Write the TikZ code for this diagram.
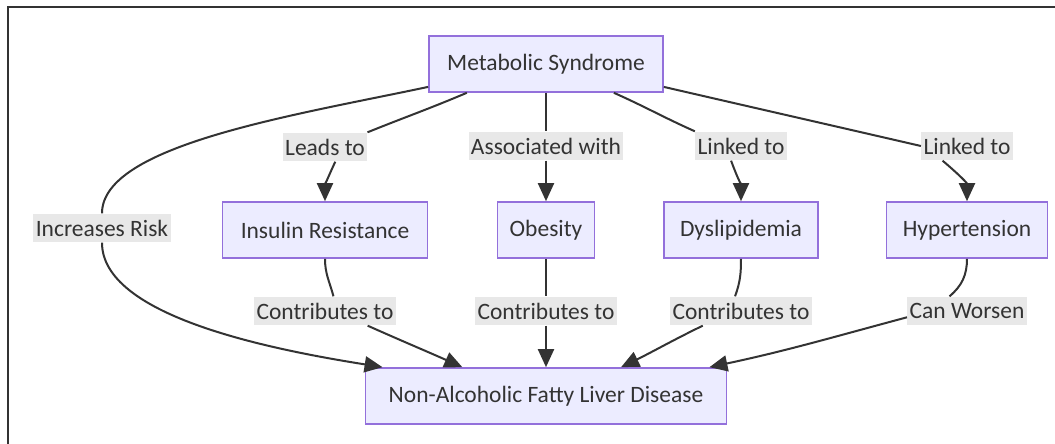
\documentclass[tikz,border=0pt]{standalone}
\usepackage{fontspec}
\setmainfont{Carlito}
\usetikzlibrary{arrows.meta}
\definecolor{boxfill}{HTML}{ECECFF}
\definecolor{boxline}{HTML}{9370DB}
\definecolor{ink}{HTML}{333333}
\definecolor{lblfill}{HTML}{E8E8E8}
\tikzset{proc/.style={rectangle,draw=boxline,fill=boxfill,line width=0.04cm,text=ink,inner xsep=0.3cm,minimum height=1.4cm,font=\fontsize{16.7}{20}\selectfont},
	 elab/.style={rectangle,fill=lblfill,text=ink,inner xsep=0.06cm,inner ysep=0pt,minimum height=0.72cm,font=\fontsize{16.7}{20}\selectfont},
	 arr/.style={draw=ink,line width=0.05cm,-{Triangle[length=0.45cm,width=0.4cm]}}
	 }
\begin{document}
\begin{tikzpicture}[x=0.025cm,y=-0.025cm] % metabolic syndrome -> NAFLD
	\useasboundingbox (0,0) rectangle (1055,444);
	\draw[ink,line width=0.04cm] (8,444) -- (8,7) -- (1055,7);
	\node[proc,minimum width=5.85cm] (ms) at (546,64) {Metabolic Syndrome};
	\node[proc,minimum width=5.12cm] (ir) at (325,230) {Insulin Resistance};
	\node[proc,minimum width=2.4cm] (ob) at (546,230) {Obesity};
	\node[proc,minimum width=3.85cm] (dy) at (741,230) {Dyslipidemia};
	\node[proc,minimum width=4.03cm] (hy) at (967,230) {Hypertension};
	\node[proc,minimum width=9.03cm] (nafld) at (546,396) {Non-Alcoholic Fatty Liver Disease};
	\node[elab] (lead) at (325,147) {Leads to};
	\node[elab] (assoc) at (546,146) {Associated with};
	\node[elab] (link1) at (741,146) {Linked to};
	\node[elab] (link2) at (967,146) {Linked to};
	\node[elab] (risk) at (102,228) {Increases Risk};
	\node[elab] (contr1) at (325,311) {Contributes to};
	\node[elab] (contr2) at (546,311) {Contributes to};
	\node[elab] (contr3) at (741,311) {Contributes to};
	\node[elab] (worsen) at (967,311) {Can Worsen};

	\draw[arr] (ms.200) to[out=203,in=22] (lead.north east) (lead.-55) to[out=-115,in=90] (ir);
	\draw[arr] (ms) -- (assoc) -- (ob);
	\draw[arr] (ms.-23) to[out=-24,in=156] (link1.north west) (link1.-124) to[out=-70,in=90] (dy);
	\draw[arr] (ms.-11) to[out=-13,in=167] (link2.west) (link2.-149) to[out=-40,in=90] (hy);
	\draw[arr] (ms.191) to[out=192,in=90,in looseness=0.5] (risk) (risk) to[out=-90,in=171,out looseness=0.6] (nafld.170);
	\draw[arr] (ir) to[out=-90,in=105] (contr1.60) (contr1.-19) to[out=-24,in=156] (nafld.161);
	\draw[arr] (ob) -- (contr2) -- (nafld);
	\draw[arr] (dy) to[out=-90,in=70] (contr3.112) (contr3.201) to[out=206,in=26] (nafld.21);
	\draw[arr] (hy) to[out=-90,in=40] (worsen.140) (worsen.186) to[out=195,in=12] (nafld.10);
\end{tikzpicture}
\end{document}
